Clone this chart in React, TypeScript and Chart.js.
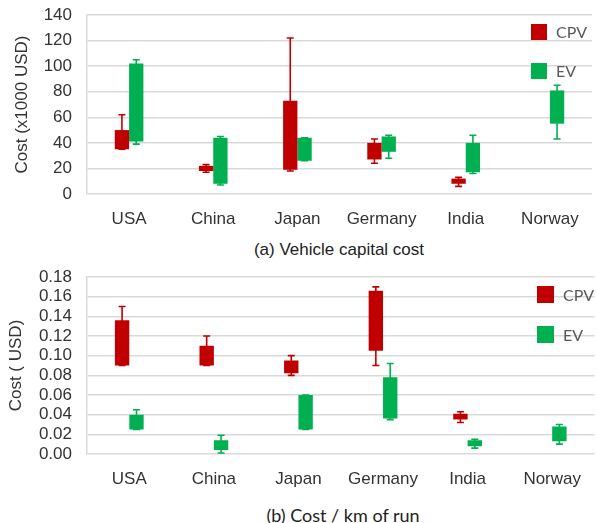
import React, { useEffect, useRef } from "react";
import { Chart, registerables } from "chart.js";

Chart.register(...registerables);

const categories = ["USA", "China", "Japan", "Germany", "India", "Norway"];

// (a) Vehicle capital cost (x1000 USD)
const capCpvMin = [35, 17, 18, 24, 6, null];
const capCpvQ1 = [35, 18, 19, 27, 8, null];
const capCpvQ3 = [50, 22, 73, 40, 12, null];
const capCpvMax = [62, 23, 122, 43, 13, null];
const capEvMin = [39, 7, 26, 28, 16, 43];
const capEvQ1 = [41, 8, 26, 33, 17, 55];
const capEvQ3 = [102, 44, 44, 45, 40, 81];
const capEvMax = [105, 45, 44, 46, 46, 85];

// (b) Cost / km of run (USD)
const runCpvMin = [0.09, 0.09, 0.08, 0.09, 0.032, null];
const runCpvQ1 = [0.09, 0.09, 0.082, 0.105, 0.035, null];
const runCpvQ3 = [0.136, 0.11, 0.095, 0.166, 0.041, null];
const runCpvMax = [0.15, 0.12, 0.1, 0.17, 0.043, null];
const runEvMin = [0.025, 0.001, 0.025, 0.035, 0.006, 0.01];
const runEvQ1 = [0.025, 0.004, 0.025, 0.036, 0.008, 0.013];
const runEvQ3 = [0.04, 0.014, 0.06, 0.078, 0.014, 0.028];
const runEvMax = [0.045, 0.019, 0.06, 0.092, 0.015, 0.03];

const seriesNames = ["CPV", "EV"];
const RED = "#C00000";
const GREEN = "#00B050";
const TICK_COLOR = "#333333";
const GRID_COLOR = "#d9d9d9";
const SANS = "'Liberation Sans', Arial, sans-serif";

const whiskerPlugin = {
  id: "whiskers",
  beforeDatasetsDraw(chart: any) {
    const ctx = chart.ctx;
    const yScale = chart.scales.y;
    chart.data.datasets.forEach((ds: any, i: number) => {
      const meta = chart.getDatasetMeta(i);
      if (!ds.whiskerLow) return;
      meta.data.forEach((el: any, j: number) => {
        const lo = ds.whiskerLow[j];
        const hi = ds.whiskerHigh[j];
        if (lo == null || hi == null) return;
        const x = el.x;
        const yLo = yScale.getPixelForValue(lo);
        const yHi = yScale.getPixelForValue(hi);
        ctx.save();
        ctx.strokeStyle = ds.backgroundColor;
        ctx.lineWidth = 1.6;
        ctx.beginPath();
        ctx.moveTo(x, yLo);
        ctx.lineTo(x, yHi);
        ctx.moveTo(x - 3.5, yLo);
        ctx.lineTo(x + 3.5, yLo);
        ctx.moveTo(x - 3.5, yHi);
        ctx.lineTo(x + 3.5, yHi);
        ctx.stroke();
        ctx.restore();
      });
    });
  },
};

function makeDs(label: string, color: string, q1: any[], q3: any[], lo: any[], hi: any[]) {
  return {
    label,
    data: q1.map((v, i) => (v == null ? null : [v, q3[i]])),
    backgroundColor: color,
    borderWidth: 0,
    categoryPercentage: 0.34,
    barPercentage: 1,
    whiskerLow: lo,
    whiskerHigh: hi,
  };
}

function makeConfig(
  datasets: any[],
  yMax: number,
  step: number,
  decimals: number,
  title: string,
  titlePad: number,
  rightPad: number,
  topPad: number
): any {
  return {
    type: "bar",
    data: { labels: categories, datasets },
    plugins: [whiskerPlugin],
    options: {
      animation: false,
      responsive: true,
      maintainAspectRatio: false,
      layout: { padding: { top: topPad, right: rightPad, left: 0, bottom: 0 } },
      plugins: {
        legend: { display: false },
        tooltip: { enabled: false },
      },
      scales: {
        x: {
          grid: { display: false, drawTicks: false },
          border: { display: false },
          ticks: {
            color: TICK_COLOR,
            font: { family: SANS, size: 17 },
            padding: 15,
          },
          afterFit: (s: any) => {
            s.height = 46;
          },
        },
        y: {
          min: 0,
          max: yMax,
          ticks: {
            stepSize: step,
            autoSkip: false,
            color: TICK_COLOR,
            font: { family: SANS, size: 17 },
            padding: 15,
            callback: (v: any) => Number(v).toFixed(decimals),
          },
          grid: { color: GRID_COLOR, lineWidth: 1.5, drawTicks: false },
          border: { display: true, color: GRID_COLOR, width: 1.5 },
          title: {
            display: true,
            text: title,
            color: TICK_COLOR,
            font: { family: SANS, size: 17 },
            padding: { top: titlePad, bottom: 0 },
          },
          afterFit: (s: any) => {
            s.width = 87;
            s.paddingTop = 0;
            s.paddingBottom = 0;
          },
        },
      },
    },
  };
}

function ChartBox({ config, top }: { config: any; top: number }) {
  const ref = useRef<HTMLCanvasElement>(null);
  useEffect(() => {
    if (!ref.current) return;
    const c = new Chart(ref.current, config);
    return () => c.destroy();
  }, []);
  return (
    <div style={{ position: "absolute", left: 0, top, width: 596, height: 240 }}>
      <canvas ref={ref} />
    </div>
  );
}

function Legend({ left, top, textLeft, gap, size }: any) {
  const colors = [RED, GREEN];
  return (
    <>
      {seriesNames.map((n, i) => (
        <React.Fragment key={n}>
          <div
            style={{
              position: "absolute",
              left,
              top: top + i * gap,
              width: size,
              height: size,
              background: colors[i],
            }}
          />
          <div
            style={{
              position: "absolute",
              left: textLeft,
              top: top + i * gap + size / 2 - 10,
              height: 20,
              lineHeight: "20px",
              fontFamily: "Lato, 'Open Sans', sans-serif",
              fontSize: 16,
              color: "#595959",
            }}
          >
            {n}
          </div>
        </React.Fragment>
      ))}
    </>
  );
}

export default function App() {
  const capConfig = makeConfig(
    [
      makeDs("CPV", RED, capCpvQ1, capCpvQ3, capCpvMin, capCpvMax),
      makeDs("EV", GREEN, capEvQ1, capEvQ3, capEvMin, capEvMax),
    ],
    140,
    20,
    0,
    "Cost (x1000 USD)",
    12,
    4,
    15
  );
  const runConfig = makeConfig(
    [
      makeDs("CPV", RED, runCpvQ1, runCpvQ3, runCpvMin, runCpvMax),
      makeDs("EV", GREEN, runEvQ1, runEvQ3, runEvMin, runEvMax),
    ],
    0.18,
    0.02,
    2,
    "Cost ( USD)",
    6,
    0,
    17
  );
  return (
    <div style={{ position: "absolute", left: 0, top: 0, width: 596, height: 523, background: "#fff" }}>
      <ChartBox config={capConfig} top={0} />
      <ChartBox config={runConfig} top={260} />
      <div
        style={{
          position: "absolute",
          left: 189,
          width: 300,
          top: 240,
          lineHeight: "20px",
          textAlign: "center",
          fontFamily: SANS,
          fontSize: 17,
          color: "#222",
        }}
      >
        (a) Vehicle capital cost
      </div>
      <div
        style={{
          position: "absolute",
          left: 193,
          width: 300,
          top: 505,
          lineHeight: "20px",
          textAlign: "center",
          fontFamily: "Lato, 'Open Sans', sans-serif",
          fontSize: 18,
          color: "#222",
        }}
      >
        (b) Cost / km of run
      </div>
      <Legend left={531} top={24} textLeft={556} gap={39} size={16} />
      <Legend left={537} top={286} textLeft={563} gap={40} size={17} />
    </div>
  );
}
